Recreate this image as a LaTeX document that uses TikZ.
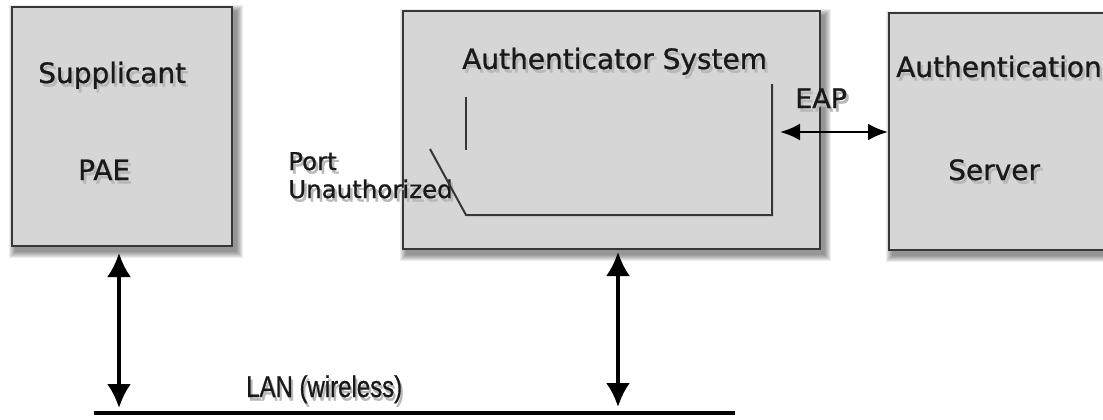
\documentclass[tikz,border=0pt]{standalone}
\usepackage{fontspec}
\usepackage{graphicx}
\setmainfont{DejaVu Sans}[FakeBold=0.8]
\newfontfamily\lanfont{Liberation Sans}[FakeBold=0.8]
\usetikzlibrary{arrows.meta,backgrounds}
\definecolor{boxfill}{RGB}{214,214,214}
\definecolor{boxline}{RGB}{55,55,55}
\definecolor{txt}{RGB}{25,25,25}
\newcommand{\shtxt}[1]{\makebox[0pt][l]{\hspace{2.5pt}\raisebox{-3.5pt}{\color{black!28}#1}}#1}
\tikzset{
  box/.style={draw=boxline, line width=2pt, fill=boxfill, anchor=north west, inner sep=0pt},
  bigtxt/.style={anchor=base west, inner sep=0pt, text=txt, font=\fontsize{28}{34}\selectfont},
  smalltxt/.style={anchor=base west, inner sep=0pt, text=txt, font=\fontsize{24.5}{28}\selectfont},
  portline/.style={draw=boxline, line width=2pt},
  bigarrow/.style={line width=3.5pt, {Latex[length=24pt,width=24pt]}-{Latex[length=24pt,width=24pt]}},
  eaparrow/.style={line width=2.8pt, {Latex[length=20pt,width=17pt]}-{Latex[length=20pt,width=17pt]}},
  lanline/.style={line width=4pt, black}
}
\newcommand{\boxshadow}[1]{%
  \foreach \b in {0,1,...,6}{
    \fill[black, opacity=0.07] ([shift={(4-\b,5-\b)}]#1.north west) rectangle ([shift={(4+\b,5+\b)}]#1.south east);
  }}
\begin{document}
\begin{tikzpicture}[x=1pt, y=-1pt]
\useasboundingbox (0,0) rectangle (1103,420);

% boxes
\node[box, minimum width=220pt, minimum height=239pt] (sup) at (11,6) {};
\node[box, minimum width=417pt, minimum height=238pt] (auth) at (402,10) {};
\node[box, minimum width=222pt, minimum height=237pt] (srv) at (888,12) {};
\begin{scope}[on background layer]
  \fill[white] (0,0) rectangle (1103,420);
  \boxshadow{sup}
  \boxshadow{auth}
  \boxshadow{srv}
\end{scope}

% texts
\node[bigtxt] (supT) at (38,83) {\shtxt{Supplicant}};
\node[bigtxt] (paeT) at (78,180) {\shtxt{PAE}};
\node[bigtxt] (authT) at (462,69) {\shtxt{Authenticator System}};
\node[bigtxt] (srvT1) at (896,77) {\shtxt{Authentication}};
\node[bigtxt] (srvT2) at (948,180) {\shtxt{Server}};
\node[bigtxt, font=\fontsize{27}{32}\selectfont] (eapT) at (795,108) {\shtxt{EAP}};
\node[smalltxt] (portT) at (288,170) {\shtxt{Port}};
\node[smalltxt] (unauthT) at (288,198) {\shtxt{Unauthorized}};
\node[anchor=base west, inner sep=0pt, text=txt, font=\lanfont\fontsize{30}{34}\selectfont] (lanT) at (246,397) {\scalebox{0.8}[1]{\shtxt{LAN (wireless)}}};

% port switch lines
\coordinate (c1) at (466,97);
\coordinate (c2) at (466,150);
\coordinate (d1) at (430,149);
\coordinate (d2) at (466,215);
\coordinate (d3) at (772,215);
\coordinate (d4) at (772,84);
\draw[portline] (c1) -- (c2);
\draw[portline, line join=miter] (d1) -- (d2) -- (d3) -- (d4);

% EAP arrow
\coordinate (eapL) at (780,132);
\draw[eaparrow] (eapL) -- (srv.west |- eapL);

% LAN
\coordinate (lanL) at (94,413);
\coordinate (lanR) at (735,413);
\draw[lanline] (lanL) -- (lanR);

\coordinate (a1t) at (119,253);
\coordinate (a1b) at (119,408);
\coordinate (a2t) at (618,252);
\coordinate (a2b) at (618,407);
\draw[bigarrow] (a1t) -- (a1b);
\draw[bigarrow] (a2t) -- (a2b);
\end{tikzpicture}
\end{document}
